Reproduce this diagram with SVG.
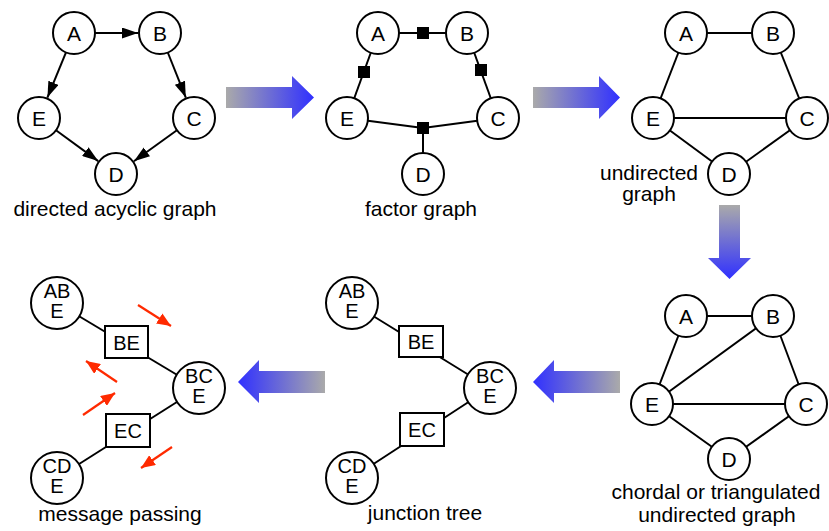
<svg xmlns="http://www.w3.org/2000/svg" width="829" height="531" viewBox="0 0 829 531">
<style>
.n{fill:#fff;stroke:#000;stroke-width:2}
.e{stroke:#000;stroke-width:2;fill:none}
.f{fill:#000}
.t{font-family:"Liberation Sans",Arial,Helvetica,sans-serif;font-size:21px;fill:#000;text-anchor:middle}
.s{font-family:"Liberation Sans",Arial,Helvetica,sans-serif;font-size:20px;fill:#000;text-anchor:middle}
.c{font-family:"Liberation Sans",Arial,Helvetica,sans-serif;font-size:21px;fill:#000;text-anchor:middle}
.r{stroke:#ff2a00;stroke-width:2.2;fill:none}
</style>
<defs>
<marker id="ah" markerUnits="userSpaceOnUse" markerWidth="16" markerHeight="11" refX="16" refY="5.5" orient="auto"><path d="M0,0 L16,5.5 L0,11 z" fill="#000"/></marker>
<marker id="rh" markerUnits="userSpaceOnUse" markerWidth="14" markerHeight="12" refX="14" refY="6" orient="auto"><path d="M0,0 L14,6 L0,12 z" fill="#ff2a00"/></marker>
<linearGradient id="gR" x1="0" y1="0" x2="1" y2="0"><stop offset="0" stop-color="#aaaaaa"/><stop offset="1" stop-color="#3030ff"/></linearGradient>
<linearGradient id="gL" x1="1" y1="0" x2="0" y2="0"><stop offset="0" stop-color="#aaaaaa"/><stop offset="1" stop-color="#3030ff"/></linearGradient>
<linearGradient id="gD" x1="0" y1="0" x2="0" y2="1"><stop offset="0" stop-color="#aaaaaa"/><stop offset="1" stop-color="#3030ff"/></linearGradient>
</defs>
<rect width="829" height="531" fill="#fff"/>

<g id="connectors">
<line class="e" x1="95" y1="33" x2="138" y2="33" marker-end="url(#ah)"/>
<line class="e" x1="66" y1="52.4" x2="47.4" y2="97.6" marker-end="url(#ah)"/>
<line class="e" x1="167.8" y1="52.5" x2="185.8" y2="97.6" marker-end="url(#ah)"/>
<line class="e" x1="56" y1="130.3" x2="98.2" y2="161.1" marker-end="url(#ah)"/>
<line class="e" x1="176.9" y1="130.2" x2="133.9" y2="161.2" marker-end="url(#ah)"/>
<line class="e" x1="378" y1="33" x2="467" y2="33"/>
<line class="e" x1="378" y1="33" x2="347" y2="118"/>
<line class="e" x1="467" y1="33" x2="498" y2="118"/>
<line class="e" x1="347" y1="118" x2="423" y2="128"/>
<line class="e" x1="498" y1="118" x2="423" y2="128"/>
<line class="e" x1="423" y1="128" x2="423" y2="174"/>
<line class="e" x1="686" y1="33" x2="773" y2="33"/>
<line class="e" x1="686" y1="33" x2="653" y2="118"/>
<line class="e" x1="773" y1="33" x2="807" y2="118"/>
<line class="e" x1="653" y1="118" x2="807" y2="118"/>
<line class="e" x1="653" y1="118" x2="729" y2="174"/>
<line class="e" x1="807" y1="118" x2="729" y2="174"/>
<line class="e" x1="686" y1="316" x2="773" y2="316"/>
<line class="e" x1="686" y1="316" x2="652" y2="404"/>
<line class="e" x1="773" y1="316" x2="806" y2="404"/>
<line class="e" x1="652" y1="404" x2="773" y2="316"/>
<line class="e" x1="652" y1="404" x2="806" y2="404"/>
<line class="e" x1="652" y1="404" x2="729" y2="459"/>
<line class="e" x1="806" y1="404" x2="729" y2="459"/>
<line class="e" x1="352" y1="303" x2="490" y2="388"/>
<line class="e" x1="352" y1="478" x2="490" y2="388"/>
<line class="e" x1="57" y1="303" x2="199" y2="388"/>
<line class="e" x1="57" y1="478" x2="199" y2="388"/>
</g>

<g id="dag">
<g id="dag-A"><circle class="n" cx="74" cy="33" r="21"/><text class="t" x="74" y="40.5">A</text></g>
<g id="dag-B"><circle class="n" cx="160" cy="33" r="21"/><text class="t" x="160" y="40.5">B</text></g>
<g id="dag-E"><circle class="n" cx="39" cy="118" r="21"/><text class="t" x="39" y="125.5">E</text></g>
<g id="dag-C"><circle class="n" cx="194" cy="118" r="21"/><text class="t" x="194" y="125.5">C</text></g>
<g id="dag-D"><circle class="n" cx="116" cy="174" r="21"/><text class="t" x="116" y="181.5">D</text></g>
<text class="c" x="115" y="216">directed acyclic graph</text>
</g>

<g id="factor">
<g id="fg-A"><circle class="n" cx="378" cy="33" r="21"/><text class="t" x="378" y="40.5">A</text></g>
<g id="fg-B"><circle class="n" cx="467" cy="33" r="21"/><text class="t" x="467" y="40.5">B</text></g>
<g id="fg-E"><circle class="n" cx="347" cy="118" r="21"/><text class="t" x="347" y="125.5">E</text></g>
<g id="fg-C"><circle class="n" cx="498" cy="118" r="21"/><text class="t" x="498" y="125.5">C</text></g>
<g id="fg-D"><circle class="n" cx="423" cy="174" r="21"/><text class="t" x="423" y="181.5">D</text></g>
<g id="fg-fAB"><rect class="f" x="417" y="27" width="12" height="12"/></g>
<g id="fg-fAE"><rect class="f" x="358" y="66" width="12" height="12"/></g>
<g id="fg-fBC"><rect class="f" x="475" y="64" width="12" height="12"/></g>
<g id="fg-fECD"><rect class="f" x="417" y="122" width="12" height="12"/></g>
<text class="c" x="421" y="216">factor graph</text>
</g>

<g id="undirected">
<g id="ug-A"><circle class="n" cx="686" cy="33" r="21"/><text class="t" x="686" y="40.5">A</text></g>
<g id="ug-B"><circle class="n" cx="773" cy="33" r="21"/><text class="t" x="773" y="40.5">B</text></g>
<g id="ug-E"><circle class="n" cx="653" cy="118" r="21"/><text class="t" x="653" y="125.5">E</text></g>
<g id="ug-C"><circle class="n" cx="807" cy="118" r="21"/><text class="t" x="807" y="125.5">C</text></g>
<g id="ug-D"><circle class="n" cx="729" cy="174" r="21"/><text class="t" x="729" y="181.5">D</text></g>
<text class="c" x="649" y="180">undirected</text>
<text class="c" x="649" y="201">graph</text>
</g>

<g id="chordal">
<g id="cg-A"><circle class="n" cx="686" cy="316" r="21"/><text class="t" x="686" y="323.5">A</text></g>
<g id="cg-B"><circle class="n" cx="773" cy="316" r="21"/><text class="t" x="773" y="323.5">B</text></g>
<g id="cg-E"><circle class="n" cx="652" cy="404" r="21"/><text class="t" x="652" y="411.5">E</text></g>
<g id="cg-C"><circle class="n" cx="806" cy="404" r="21"/><text class="t" x="806" y="411.5">C</text></g>
<g id="cg-D"><circle class="n" cx="729" cy="459" r="21"/><text class="t" x="729" y="466.5">D</text></g>
<text class="c" x="716" y="499">chordal or triangulated</text>
<text class="c" x="717" y="522">undirected graph</text>
</g>

<g id="junction">
<g id="jt-ABE"><circle class="n" cx="352" cy="303" r="26"/><text class="s" x="352" y="298">AB</text><text class="s" x="352" y="318">E</text></g>
<g id="jt-BE"><rect class="n" x="399" y="326" width="44" height="31"/><text class="s" x="421" y="348.5">BE</text></g>
<g id="jt-BCE"><circle class="n" cx="490" cy="388" r="26"/><text class="s" x="490" y="383">BC</text><text class="s" x="490" y="403">E</text></g>
<g id="jt-EC"><rect class="n" x="400" y="413" width="44" height="33"/><text class="s" x="422" y="436.5">EC</text></g>
<g id="jt-CDE"><circle class="n" cx="352" cy="478" r="26"/><text class="s" x="352" y="473">CD</text><text class="s" x="352" y="493">E</text></g>
<text class="c" x="425" y="520">junction tree</text>
</g>

<g id="message">
<g id="mp-ABE"><circle class="n" cx="57" cy="303" r="26"/><text class="s" x="57" y="298">AB</text><text class="s" x="57" y="318">E</text></g>
<g id="mp-BE"><rect class="n" x="105" y="326" width="43" height="32"/><text class="s" x="126.5" y="349.5">BE</text></g>
<g id="mp-BCE"><circle class="n" cx="199" cy="388" r="26"/><text class="s" x="199" y="383">BC</text><text class="s" x="199" y="403">E</text></g>
<g id="mp-EC"><rect class="n" x="106" y="414" width="44" height="33"/><text class="s" x="128" y="437.5">EC</text></g>
<g id="mp-CDE"><circle class="n" cx="57" cy="478" r="26"/><text class="s" x="57" y="473">CD</text><text class="s" x="57" y="493">E</text></g>
<g id="messages">
<line class="r" x1="138" y1="305" x2="171" y2="326" marker-end="url(#rh)"/>
<line class="r" x1="117" y1="382" x2="86" y2="361" marker-end="url(#rh)"/>
<line class="r" x1="83" y1="415" x2="115" y2="393" marker-end="url(#rh)"/>
<line class="r" x1="172" y1="447" x2="141" y2="468" marker-end="url(#rh)"/>
</g>
<text class="c" x="120" y="521">message passing</text>
</g>

<g id="transitions">
<polygon fill="url(#gR)" points="226,87 292,87 292,76 314,97.5 292,119 292,108 226,108"/>
<polygon fill="url(#gR)" points="533,87 599,87 599,76 620,97.5 599,119 599,108 533,108"/>
<polygon fill="url(#gD)" points="719,205 740,205 740,258 751,258 729.5,279 708,258 719,258"/>
<polygon fill="url(#gL)" points="620,371 554,371 554,360 533,382 554,403 554,393 620,393"/>
<polygon fill="url(#gL)" points="325,371 259,371 259,360 238,382 259,403 259,393 325,393"/>
</g>
</svg>
